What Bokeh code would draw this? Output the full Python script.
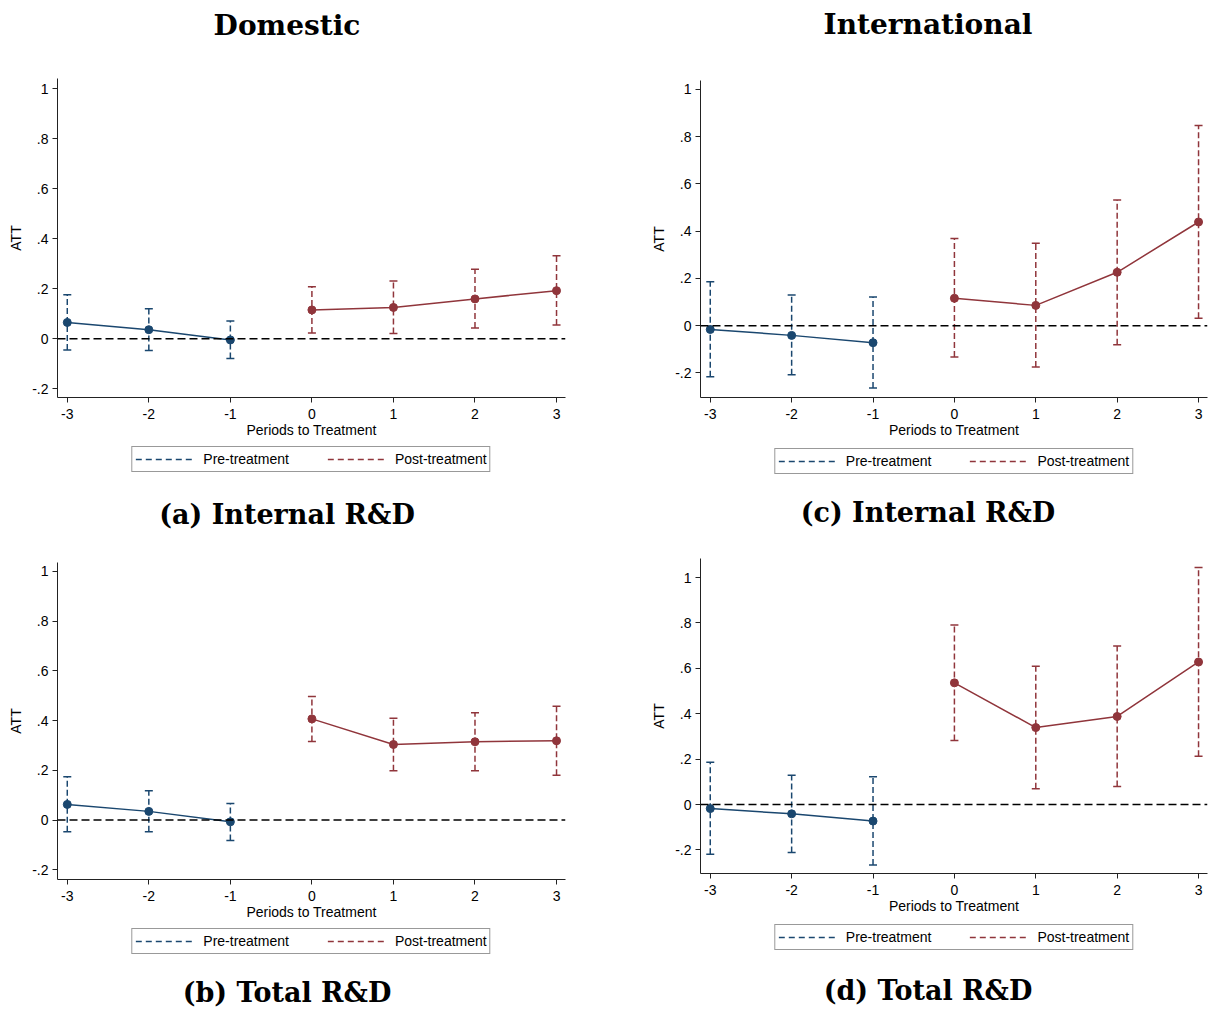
from bokeh.plotting import figure
from bokeh.layouts import column, row
from bokeh.models import (Span, Legend, LegendItem, FixedTicker, Range1d)
from bokeh.embed import file_html
from bokeh.resources import INLINE

# ---------------- data ----------------
pre_periods = [-3, -2, -1]
post_periods = [0, 1, 2, 3]

# (a) Domestic - Internal R&D
a_pre_att = [0.065, 0.036, -0.005]
a_pre_lo = [-0.045, -0.047, -0.079]
a_pre_hi = [0.176, 0.120, 0.071]
a_post_att = [0.115, 0.125, 0.159, 0.192]
a_post_lo = [0.023, 0.021, 0.043, 0.055]
a_post_hi = [0.208, 0.231, 0.278, 0.332]

# (b) Domestic - Total R&D
b_pre_att = [0.063, 0.035, -0.007]
b_pre_lo = [-0.047, -0.047, -0.082]
b_pre_hi = [0.174, 0.118, 0.067]
b_post_att = [0.407, 0.304, 0.315, 0.319]
b_post_lo = [0.316, 0.198, 0.198, 0.180]
b_post_hi = [0.497, 0.410, 0.432, 0.458]

# (c) International - Internal R&D
c_pre_att = [-0.016, -0.041, -0.072]
c_pre_lo = [-0.216, -0.208, -0.264]
c_pre_hi = [0.186, 0.130, 0.121]
c_post_att = [0.116, 0.086, 0.226, 0.439]
c_post_lo = [-0.133, -0.175, -0.081, 0.032]
c_post_hi = [0.369, 0.349, 0.532, 0.847]

# (d) International - Total R&D
d_pre_att = [-0.018, -0.041, -0.073]
d_pre_lo = [-0.219, -0.211, -0.266]
d_pre_hi = [0.186, 0.129, 0.122]
d_post_att = [0.536, 0.339, 0.388, 0.628]
d_post_lo = [0.282, 0.069, 0.079, 0.213]
d_post_hi = [0.791, 0.609, 0.698, 1.044]

x_ticks = [-3, -2, -1, 0, 1, 2, 3]
x_tick_labels = ["-3", "-2", "-1", "0", "1", "2", "3"]
y_ticks = [-0.2, 0, 0.2, 0.4, 0.6, 0.8, 1]
y_tick_labels = ["-.2", "0", ".2", ".4", ".6", ".8", "1"]

col_titles = ["Domestic", "International"]
captions = ["(a) Internal R&D", "(b) Total R&D", "(c) Internal R&D", "(d) Total R&D"]
x_label = "Periods to Treatment"
y_label = "ATT"
legend_labels = ["Pre-treatment", "Post-treatment"]

NAVY = "#1a476f"
MAROON = "#90353b"
SANS = "Liberation Sans"
SERIF = "DejaVu Serif"
W = 604


def blank_fig(height, bl, br, bt, bb, title_loc="above", align=True):
    f = figure(width=W, height=height, output_backend="svg", toolbar_location=None,
               x_range=Range1d(0, 1), y_range=Range1d(0, 1),
               x_axis_location=None, y_axis_location=None, title_location=title_loc,
               min_border_left=bl, min_border_right=br, min_border_top=bt, min_border_bottom=bb)
    f.frame_align = align
    f.outline_line_color = None
    f.background_fill_color = "white"
    f.border_fill_color = "white"
    f.xgrid.visible = False
    f.ygrid.visible = False
    return f


def text_fig(text, height, side, standoff, bl, br, size):
    f = blank_fig(height, bl, br, 0, 0, title_loc=side, align=False)
    f.title.text = text
    f.title.align = "center"
    f.title.vertical_align = "middle"
    f.title.standoff = standoff
    f.title.text_font = SERIF
    f.title.text_font_style = "bold"
    f.title.text_font_size = size
    f.title.text_color = "black"
    return f


def main_fig(pre, post, height, bl, br, bt, bb, xr, yr):
    p = figure(width=W, height=height, output_backend="svg", toolbar_location=None,
               x_range=Range1d(*xr), y_range=Range1d(*yr),
               min_border_left=bl, min_border_right=br, min_border_top=bt, min_border_bottom=bb)
    p.outline_line_color = None
    p.background_fill_color = "white"
    p.border_fill_color = "white"
    p.xgrid.visible = False
    p.ygrid.visible = False

    for ax in (p.xaxis[0], p.yaxis[0]):
        ax.axis_line_color = "#222222"
        ax.axis_line_width = 1
        ax.major_tick_line_color = "#222222"
        ax.major_tick_out = 5
        ax.major_tick_in = 0
        ax.minor_tick_out = 0
        ax.minor_tick_in = 0
        ax.major_label_text_font = SANS
        ax.major_label_text_font_size = "14px"
        ax.major_label_text_color = "black"
        ax.axis_label_text_font = SANS
        ax.axis_label_text_font_size = "14px"
        ax.axis_label_text_font_style = "normal"
        ax.axis_label_text_color = "black"

    p.xaxis.ticker = FixedTicker(ticks=x_ticks)
    p.xaxis.major_label_overrides = dict(zip(x_ticks, x_tick_labels))
    p.xaxis.axis_label = x_label
    p.xaxis.major_label_standoff = 6
    p.xaxis.axis_label_standoff = 0

    p.yaxis.ticker = FixedTicker(ticks=y_ticks)
    p.yaxis.major_label_overrides = dict(zip(y_ticks, y_tick_labels))
    p.yaxis.axis_label = y_label
    p.yaxis.major_label_standoff = 4
    p.yaxis.axis_label_standoff = 5

    p.add_layout(Span(location=0, dimension="width", line_color="black",
                      line_width=1.5, line_dash="8 4"))

    for periods, (att, lo, hi), color in ((pre_periods, pre, NAVY), (post_periods, post, MAROON)):
        p.segment(x0=periods, y0=lo, x1=periods, y1=hi, line_color=color,
                  line_width=1.5, line_dash="6 3")
        p.scatter(x=periods, y=lo, marker="dash", size=8, line_color=color, line_width=1.5)
        p.scatter(x=periods, y=hi, marker="dash", size=8, line_color=color, line_width=1.5)
        p.line(x=periods, y=att, line_color=color, line_width=1.5)
        p.scatter(x=periods, y=att, marker="circle", size=8, fill_color=color, line_color=color)
    return p


def legend_fig(height, bl, br, margin):
    q = blank_fig(height, bl, br, 0, 0)
    r_pre = q.segment(x0=[5], y0=[5], x1=[6], y1=[6], line_color=NAVY, line_width=1.5, line_dash="6 4")
    r_post = q.segment(x0=[5], y0=[5], x1=[6], y1=[6], line_color=MAROON, line_width=1.5, line_dash="6 4")
    legend = Legend(items=[LegendItem(label=legend_labels[0], renderers=[r_pre]),
                           LegendItem(label=legend_labels[1], renderers=[r_post])],
                    orientation="horizontal", location="top_center",
                    border_line_color="#333333", border_line_width=1,
                    label_text_font=SANS, label_text_font_size="14px", label_text_color="black",
                    glyph_width=60, glyph_height=18, label_height=18,
                    label_standoff=8, spacing=38, padding=3, margin=margin,
                    background_fill_alpha=1)
    q.add_layout(legend, "center")
    return q


XR = (-3.12, 3.11)
HEAD = "28px"
CAP = "27px"

# left column: x 0..604 ; right column: x 604..1208
pa = column(
    text_fig(col_titles[0], 50, "above", 14, 0, 31, HEAD),
    main_fig((a_pre_att, a_pre_lo, a_pre_hi), (a_post_att, a_post_lo, a_post_hi),
             392, 57, 39, 28, 45, XR, (-0.235, 1.04)),
    legend_fig(43, 57, 38, 4),
    text_fig(captions[0], 65, "above", 24, 0, 31, CAP),
)
pc = column(
    text_fig(col_titles[1], 50, "above", 18, 43, 0, HEAD),
    main_fig((c_pre_att, c_pre_lo, c_pre_hi), (c_post_att, c_post_lo, c_post_hi),
             392, 96, 1, 30, 45, XR, (-0.304, 1.038)),
    legend_fig(43, 96, 1, 6),
    text_fig(captions[2], 65, "above", 20, 43, 0, CAP),
)
pb = column(
    main_fig((b_pre_att, b_pre_lo, b_pre_hi), (b_post_att, b_post_lo, b_post_hi),
             374, 57, 39, 12, 45, XR, (-0.239, 1.036)),
    legend_fig(38, 57, 38, 4),
    text_fig(captions[1], 50, "below", 8, 0, 31, CAP),
)
pd_ = column(
    main_fig((d_pre_att, d_pre_lo, d_pre_hi), (d_post_att, d_post_lo, d_post_hi),
             368, 96, 1, 8, 45, XR, (-0.304, 1.084)),
    legend_fig(38, 96, 1, 6),
    text_fig(captions[3], 56, "below", 12, 43, 0, CAP),
)

layout = column(row(pa, pc), row(pb, pd_))
open("out.html", "w").write(file_html(layout, INLINE))
